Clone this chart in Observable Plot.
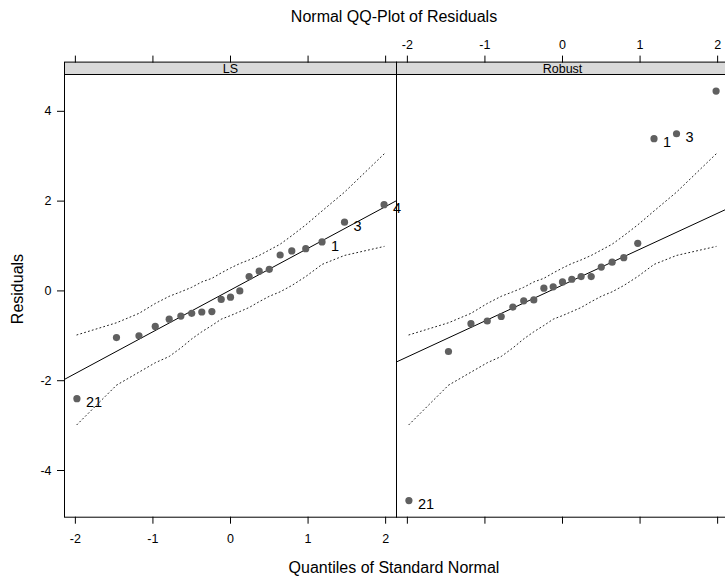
<!DOCTYPE html>
<html>
<head>
<meta charset="utf-8">
<script src="https://cdn.jsdelivr.net/npm/d3@7"></script>
<script src="https://cdn.jsdelivr.net/npm/@observablehq/plot@0.6"></script>
<style>
  html, body { margin: 0; padding: 0; background: #fff; overflow: hidden; }
  #chart { position: relative; width: 725px; height: 578px; overflow: hidden;
           font-family: "Liberation Sans", Arial, Helvetica, sans-serif; color: #000; }
  .title { position: absolute; left: 0; width: 788px; top: 3px; height: 28px; line-height: 28px;
           text-align: center; font-size: 16px; }
  .xlab  { position: absolute; left: 0; width: 788px; top: 554px; height: 28px; line-height: 28px;
           text-align: center; font-size: 16px; }
  .ylab  { position: absolute; left: 18px; top: 289px; transform: translate(-50%, -50%) rotate(-90deg);
           font-size: 16px; white-space: nowrap; }
  #plot  { position: absolute; left: 0; top: 34px; width: 746px; }
  #plot svg { max-width: none !important; }
</style>
</head>
<body>
<div id="chart">
  <div class="title">Normal QQ-Plot of Residuals</div>
  <div id="plot"></div>
  <div class="ylab">Residuals</div>
  <div class="xlab">Quantiles of Standard Normal</div>
</div>
<script>
// Panels of the trellis display
const panels = ["LS", "Robust"];

// Quantiles of the standard normal for the 21 sorted residuals
const normalQuantiles = [-1.98, -1.47, -1.18, -0.97, -0.79, -0.64, -0.50, -0.37, -0.24, -0.12,
                         0, 0.12, 0.24, 0.37, 0.50, 0.64, 0.79, 0.97, 1.18, 1.47, 1.98];

// Sorted residuals of each fit
const lsResiduals = [-2.40, -1.04, -1.00, -0.79, -0.63, -0.56, -0.50, -0.47, -0.46, -0.19,
                     -0.14, 0.00, 0.32, 0.44, 0.48, 0.80, 0.89, 0.94, 1.09, 1.53, 1.92];
const robustResiduals = [-4.67, -1.35, -0.73, -0.67, -0.57, -0.36, -0.22, -0.20, 0.06, 0.09,
                         0.20, 0.26, 0.32, 0.32, 0.53, 0.64, 0.74, 1.06, 3.39, 3.50, 4.45];

// Simulation envelope (upper and lower) at each quantile
const envelopeUpper = [-0.98, -0.71, -0.50, -0.28, -0.12, -0.02, 0.08, 0.20, 0.28, 0.40,
                       0.51, 0.61, 0.69, 0.79, 0.91, 1.04, 1.23, 1.47, 1.78, 2.20, 3.05];
const envelopeLower = [-2.98, -2.10, -1.81, -1.60, -1.46, -1.27, -1.07, -0.91, -0.77, -0.63,
                       -0.55, -0.46, -0.37, -0.24, -0.12, -0.02, 0.12, 0.32, 0.59, 0.79, 0.99];

// Reference line of each panel
const lineIntercepts = [0.02, 0.13];
const lineSlopes = [0.93, 0.80];

// Observations flagged by number (rank in the sorted residuals, and case number)
const flaggedRanks = [0, 18, 19, 20];
const flaggedCases = ["21", "1", "3", "4"];

// Axis ticks and limits
const xTicks = [-2, -1, 0, 1, 2];
const yTicks = [-4, -2, 0, 2, 4];
const xDomain = [-2.14, 2.14];
const yDomain = [-5.04, 4.82];

const residualsByPanel = [lsResiduals, robustResiduals];

const points = panels.flatMap((panel, k) =>
  residualsByPanel[k].map((r, i) => ({panel, q: normalQuantiles[i], r})));

const flagged = panels.flatMap((panel, k) =>
  flaggedRanks.map((i, j) => ({panel, q: normalQuantiles[i], r: residualsByPanel[k][i], label: flaggedCases[j]})));

const envelope = panels.flatMap(panel =>
  normalQuantiles.map((q, i) => ({panel, q, upper: envelopeUpper[i], lower: envelopeLower[i]})));

const refLines = panels.flatMap((panel, k) =>
  xDomain.map(q => ({panel, q, r: lineIntercepts[k] + lineSlopes[k] * q})));

const width = 746, height = 514;
const marginTop = 40, marginBottom = 31.3, marginLeft = 64, marginRight = 18;
const stripHeight = 12.4;
const panelHeight = height - marginTop - marginBottom;
const fmt = d => String(d);
const tickFont = 12.5;

const chart = Plot.plot({
  width, height, marginTop, marginBottom, marginLeft, marginRight,
  style: {fontFamily: '"Liberation Sans", Arial, Helvetica, sans-serif', fontSize: "12.5px", color: "black",
          background: "white", overflow: "visible", maxWidth: "none"},
  fx: {domain: panels, padding: 0, axis: null, round: false},
  x: {domain: xDomain},
  y: {domain: yDomain},
  marks: [
    // strip behind the panel name
    Plot.frame({fill: "#d9d9d9", stroke: "black", insetTop: -stripHeight, insetBottom: panelHeight}),
    // panel border
    Plot.frame({stroke: "black", strokeWidth: 1}),
    // panel name
    Plot.text(panels, {fx: d => d, text: d => d, frameAnchor: "top", dy: -5.5, fontSize: tickFont, lineAnchor: "middle"}),
    // axes
    Plot.axisY({anchor: "left", ticks: yTicks, tickSize: 7, tickPadding: 6, tickFormat: fmt, label: null, facetAnchor: "left", fontSize: tickFont}),
    Plot.axisX({anchor: "bottom", ticks: xTicks, tickSize: 7, tickPadding: 10, tickFormat: fmt, label: null, facetAnchor: "left", fontSize: tickFont}),
    Plot.axisX({anchor: "bottom", ticks: xTicks, tickSize: 7, tickFormat: () => "", label: null, facetAnchor: "right"}),
    Plot.axisX({anchor: "top", ticks: xTicks, tickSize: 7, tickPadding: 6, tickFormat: fmt, label: null, facetAnchor: "right", dy: -stripHeight, fontSize: tickFont}),
    Plot.axisX({anchor: "top", ticks: xTicks, tickSize: 7, tickFormat: () => "", label: null, facetAnchor: "left", dy: -stripHeight}),
    // envelope
    Plot.line(envelope, {fx: "panel", x: "q", y: "upper", stroke: "#222", strokeWidth: 1, strokeDasharray: "1,3"}),
    Plot.line(envelope, {fx: "panel", x: "q", y: "lower", stroke: "#222", strokeWidth: 1, strokeDasharray: "1,3"}),
    // reference line
    Plot.line(refLines, {fx: "panel", x: "q", y: "r", stroke: "black", strokeWidth: 1}),
    // residuals
    Plot.dot(points, {fx: "panel", x: "q", y: "r", r: 3.6, fill: "#606060"}),
    Plot.text(flagged, {fx: "panel", x: "q", y: "r", text: "label", textAnchor: "start", dx: 9, dy: 4, fontSize: 14.5, fill: "black"})
  ]
});

document.getElementById("plot").appendChild(chart);
</script>
</body>
</html>
